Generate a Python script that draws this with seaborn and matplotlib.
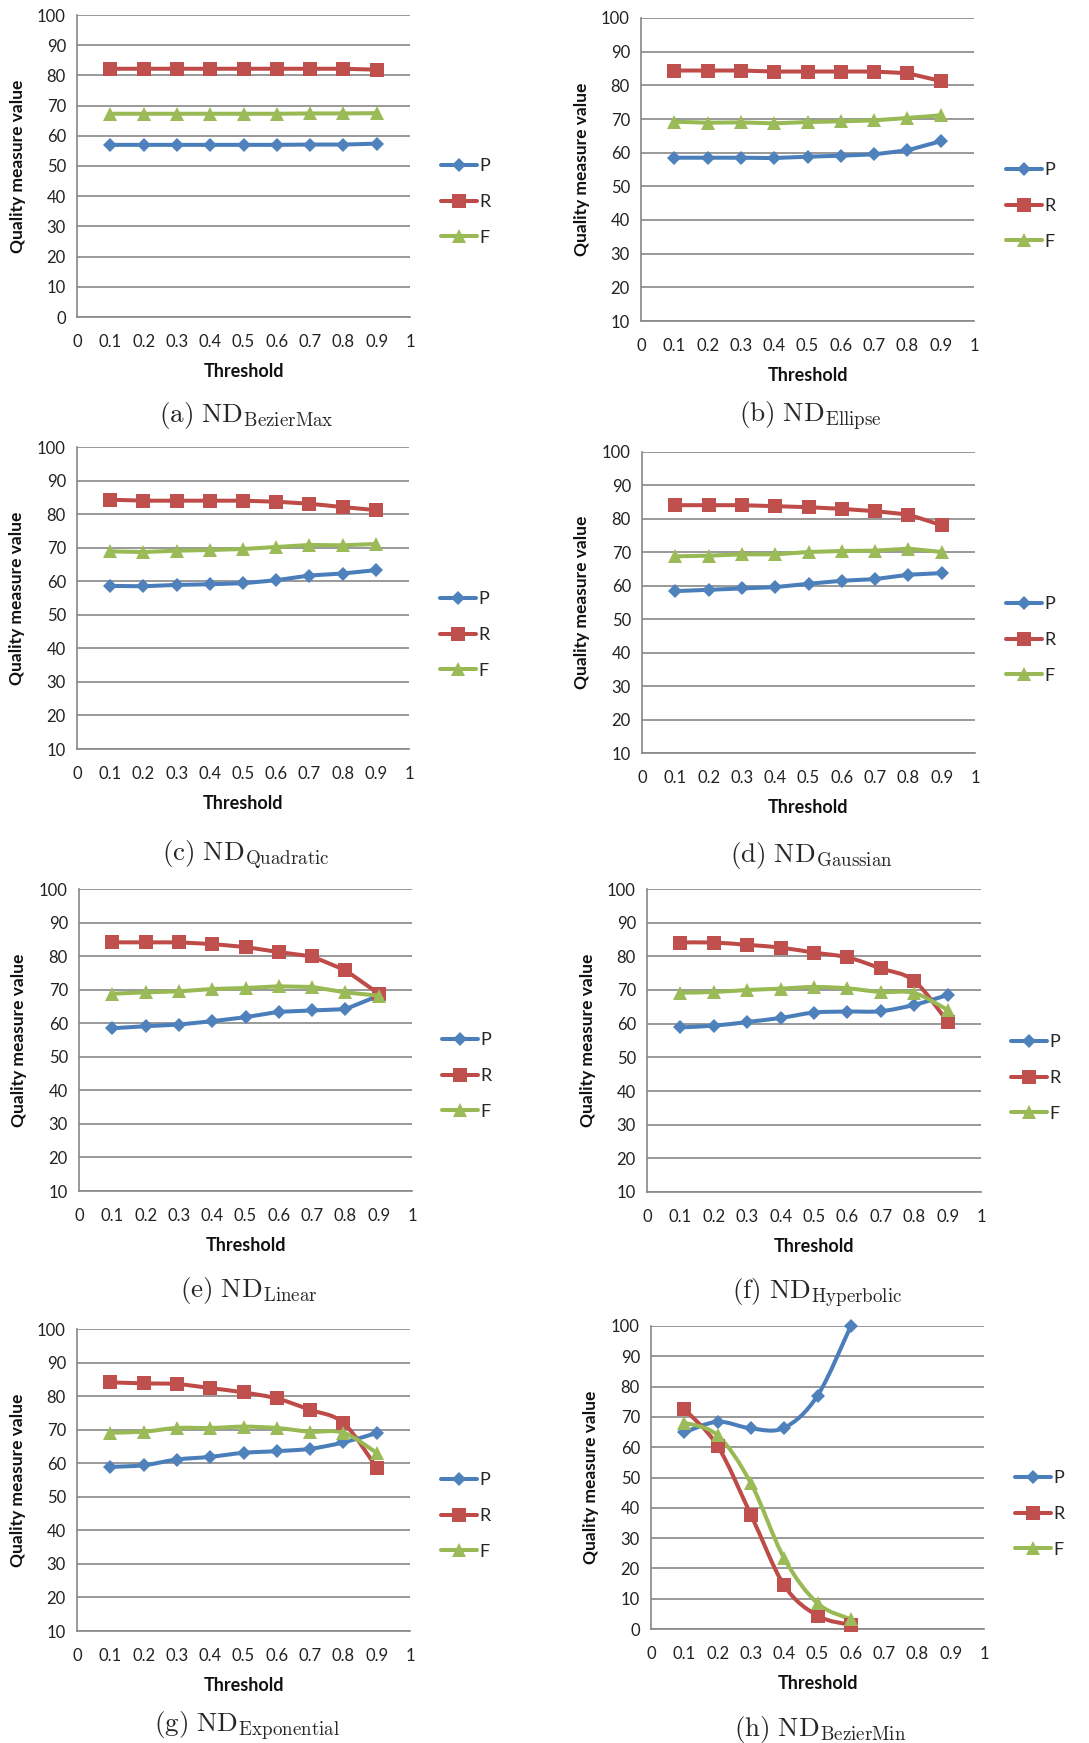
import numpy as np
import pandas as pd
import matplotlib
matplotlib.use("Agg")
import matplotlib.pyplot as plt
import seaborn as sns
from matplotlib.path import Path
from matplotlib.patches import PathPatch
from matplotlib.lines import Line2D

# Thresholds
thr9 = [0.1, 0.2, 0.3, 0.4, 0.5, 0.6, 0.7, 0.8, 0.9]
thr6 = [0.1, 0.2, 0.3, 0.4, 0.5, 0.6]
xtick_labels = ["0", "0.1", "0.2", "0.3", "0.4", "0.5", "0.6", "0.7", "0.8", "0.9", "1"]

# (a) BezierMax
a_P = [57.0, 57.0, 57.0, 57.0, 57.0, 57.0, 57.1, 57.1, 57.4]
a_R = [82.2, 82.2, 82.2, 82.2, 82.2, 82.2, 82.2, 82.2, 81.9]
a_F = [67.3, 67.3, 67.3, 67.3, 67.3, 67.3, 67.4, 67.4, 67.5]
# (b) Ellipse
b_P = [58.5, 58.5, 58.5, 58.4, 58.8, 59.1, 59.5, 60.7, 63.4]
b_R = [84.4, 84.4, 84.4, 84.1, 84.1, 84.1, 84.1, 83.6, 81.3]
b_F = [69.2, 68.9, 69.0, 68.7, 69.1, 69.3, 69.6, 70.3, 71.1]
# (c) Quadratic
c_P = [58.6, 58.5, 58.9, 59.1, 59.4, 60.3, 61.7, 62.3, 63.3]
c_R = [84.3, 84.0, 84.0, 84.0, 84.0, 83.7, 83.1, 82.1, 81.2]
c_F = [68.9, 68.7, 69.1, 69.3, 69.6, 70.2, 70.8, 70.7, 71.1]
# (d) Gaussian
d_P = [58.4, 58.8, 59.2, 59.6, 60.6, 61.5, 62.0, 63.3, 63.8]
d_R = [84.1, 84.1, 84.1, 83.8, 83.5, 83.0, 82.3, 81.3, 78.1]
d_F = [68.8, 69.0, 69.4, 69.4, 70.1, 70.4, 70.5, 71.1, 70.1]
# (e) Linear
e_P = [58.5, 59.1, 59.6, 60.6, 61.8, 63.4, 63.8, 64.2, 68.2]
e_R = [84.1, 84.1, 84.1, 83.6, 82.7, 81.2, 79.9, 75.8, 68.8]
e_F = [68.8, 69.2, 69.5, 70.2, 70.5, 71.0, 70.8, 69.2, 68.2]
# (f) Hyperbolic
f_P = [58.9, 59.4, 60.5, 61.7, 63.3, 63.6, 63.7, 65.6, 68.5]
f_R = [84.1, 84.1, 83.4, 82.6, 81.1, 79.7, 76.4, 72.7, 60.6]
f_F = [69.2, 69.4, 70.0, 70.4, 70.9, 70.5, 69.4, 69.1, 64.1]
# (g) Exponential
g_P = [58.9, 59.4, 61.1, 61.9, 63.1, 63.6, 64.3, 66.2, 69.0]
g_R = [84.1, 83.8, 83.6, 82.4, 81.1, 79.3, 75.9, 72.0, 58.7]
g_F = [69.1, 69.4, 70.5, 70.5, 70.9, 70.5, 69.4, 69.1, 63.1]
# (h) BezierMin
h_P = [64.9, 68.4, 66.2, 66.4, 77.0, 100.0]
h_R = [72.6, 60.4, 37.7, 14.4, 4.4, 1.3]
h_F = [68.1, 63.9, 48.1, 23.3, 8.5, 3.2]

letters = ["a", "b", "c", "d", "e", "f", "g", "h"]
names = ["BezierMax", "Ellipse", "Quadratic", "Gaussian",
         "Linear", "Hyperbolic", "Exponential", "BezierMin"]

W, H = 1089, 1743
# axes pixel boxes: left, right, top, bottom ; y range ; caption baseline ; legend (x, yP) ; ylabel x
panels = [
    (a_P, a_R, a_F, thr9, (77, 410, 15, 317), (0, 100), 422, (443, 164), 18, False),
    (b_P, b_R, b_F, thr9, (641, 974, 18, 321), (10, 100), 422, (1008, 168), 582, False),
    (c_P, c_R, c_F, thr9, (77, 409, 447, 749), (10, 100), 861, (442, 597), 17, False),
    (d_P, d_R, d_F, thr9, (642, 975, 452, 753), (10, 100), 862, (1008, 602), 582, False),
    (e_P, e_R, e_F, thr9, (79, 412, 889, 1191), (10, 100), 1297, (444, 1038), 19, False),
    (f_P, f_R, f_F, thr9, (647, 981, 889, 1192), (10, 100), 1299, (1013, 1040), 588, True),
    (g_P, g_R, g_F, thr9, (77, 410, 1329, 1631), (10, 100), 1732, (443, 1478), 18, True),
    (h_P, h_R, h_F, thr6, (651, 984, 1326, 1629), (0, 100), 1736, (1017, 1476), 591, True),
]

line_colors = ["#4A7EBB", "#BE4B48", "#98B954"]
marker_colors = ["#4F81BD", "#C0504D", "#9BBB59"]
markers = ["D", "s", "^"]
msizes = [7.5, 10, 10]
series_names = ["P", "R", "F"]
grid_color = "#878787"

sns.set_style("white")
plt.rcParams["font.family"] = ["Lato", "DejaVu Sans"]
plt.rcParams["mathtext.fontset"] = "cm"


def smooth_path(xs, ys):
    """Excel-like smoothed line as cubic Bezier segments"""
    xs = np.asarray(xs, float)
    ys = np.asarray(ys, float)
    n = len(xs)
    verts = [(xs[0], ys[0])]
    codes = [Path.MOVETO]
    for i in range(n - 1):
        i0 = max(i - 1, 0)
        i3 = min(i + 2, n - 1)
        c1 = (xs[i] + (xs[i + 1] - xs[i0]) / 6, ys[i] + (ys[i + 1] - ys[i0]) / 6)
        c2 = (xs[i + 1] - (xs[i3] - xs[i]) / 6, ys[i + 1] - (ys[i3] - ys[i]) / 6)
        verts += [c1, c2, (xs[i + 1], ys[i + 1])]
        codes += [Path.CURVE4] * 3
    return Path(verts, codes)


fig = plt.figure(figsize=(W / 100, H / 100), dpi=100)

for k, (P, R, F, thr, box, ylim, cap_y, leg, ylab_x, smooth) in enumerate(panels):
    x0, x1, yt, yb = box
    ax = fig.add_axes([x0 / W, 1 - yb / H, (x1 - x0) / W, (yb - yt) / H])

    df = pd.DataFrame({"Threshold": thr * 3,
                       "value": P + R + F,
                       "series": ["P"] * len(thr) + ["R"] * len(thr) + ["F"] * len(thr)})

    for j, s in enumerate(series_names):
        sub = df[df["series"] == s]
        if smooth:
            patch = PathPatch(smooth_path(sub["Threshold"], sub["value"]), facecolor="none",
                              edgecolor=line_colors[j], lw=2.9, zorder=3, capstyle="round",
                              clip_on=False)
            ax.add_patch(patch)
            sns.lineplot(data=sub, x="Threshold", y="value", ax=ax, linestyle="",
                         marker=markers[j], markersize=msizes[j], color=marker_colors[j],
                         markeredgewidth=0, zorder=4, clip_on=False)
        else:
            sns.lineplot(data=sub, x="Threshold", y="value", ax=ax, color=line_colors[j],
                         lw=2.9, marker=markers[j], markersize=msizes[j],
                         markerfacecolor=marker_colors[j], markeredgewidth=0, zorder=3,
                         clip_on=False)

    ax.set_xlim(0, 1)
    ax.set_ylim(*ylim)
    ax.set_xticks(np.arange(0, 11) / 10)
    ax.set_xticklabels(xtick_labels)
    ax.set_yticks(np.arange(ylim[0], 101, 10))
    ax.yaxis.grid(True, color=grid_color, lw=1.2)
    ax.xaxis.grid(False)
    ax.set_axisbelow(True)
    for side in ["top", "right"]:
        ax.spines[side].set_visible(False)
    for side in ["left", "bottom"]:
        ax.spines[side].set_color(grid_color)
        ax.spines[side].set_linewidth(1.2)
    ax.tick_params(axis="both", direction="out", length=4, width=1.1, color=grid_color,
                   labelsize=12, labelcolor="#222222", pad=4)
    ax.tick_params(axis="x", pad=8)

    ax.set_xlabel("Threshold", fontsize=13, fontweight="bold", color="#111111")
    ax.xaxis.set_label_coords(0.5, -(46) / (yb - yt), transform=ax.transAxes)
    ax.set_ylabel("Quality measure value", fontsize=12.5, fontweight="bold", color="#111111")
    ax.yaxis.set_label_coords((ylab_x + 8 - x0) / (x1 - x0), 0.5)

    handles = [Line2D([], [], color=line_colors[j], lw=2.9, marker=markers[j],
                      markersize=msizes[j], markerfacecolor=marker_colors[j],
                      markeredgewidth=0) for j in range(3)]
    lx, ly = leg
    ax.legend(handles, series_names, loc="upper left",
              bbox_to_anchor=((lx - 2 - x0) / (x1 - x0), (yb - (ly - 6)) / (yb - yt)),
              frameon=False, fontsize=13, handlelength=2.0, handletextpad=0.15,
              labelspacing=1.1, borderaxespad=0, borderpad=0)

    fig.text(((x0 + x1) / 2 + 3) / W, 1 - cap_y / H,
             r"$\mathrm{(%s)\ ND}_{\mathrm{%s}}$" % (letters[k], names[k]),
             ha="center", va="baseline", fontsize=19.5)

fig.savefig("out.png", dpi=100)
